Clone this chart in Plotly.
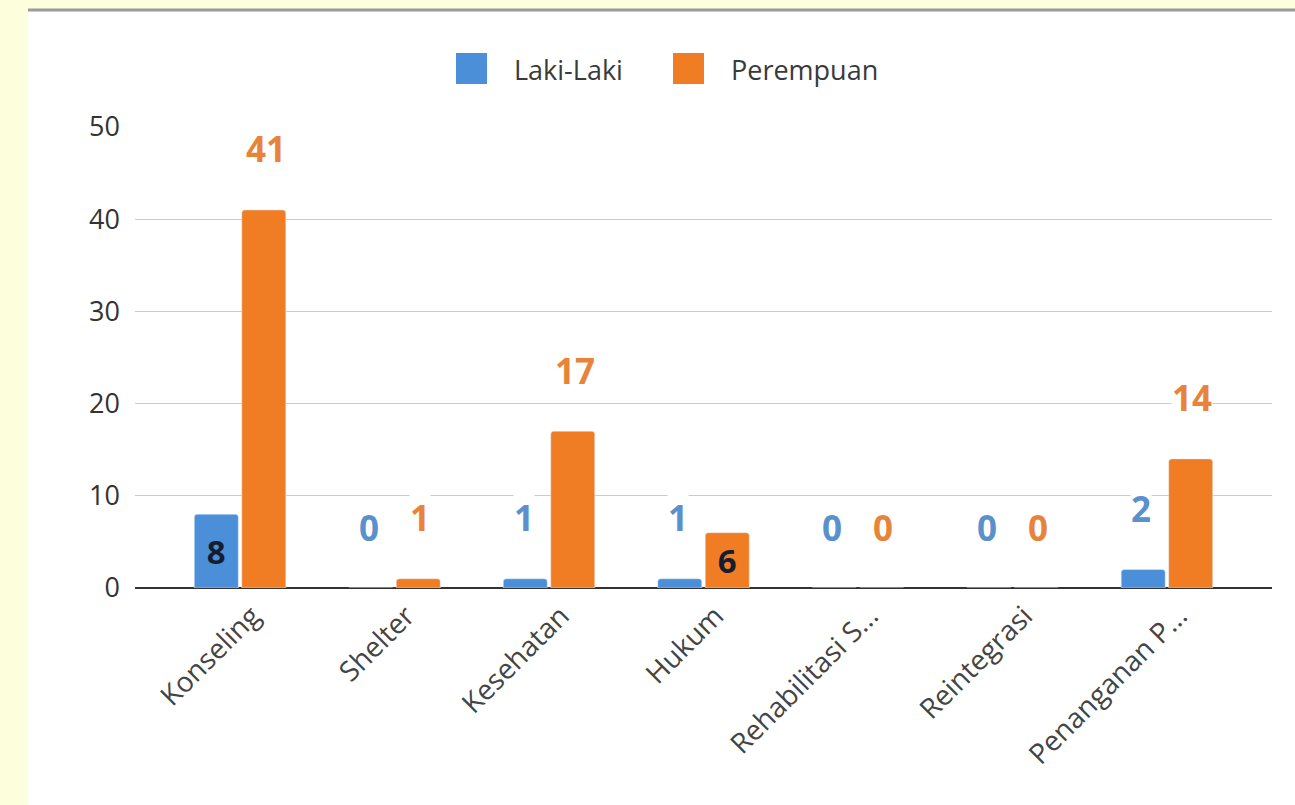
import plotly.graph_objects as go

categories = ["Konseling", "Shelter", "Kesehatan", "Hukum", "Rehabilitasi S...", "Reintegrasi", "Penanganan P..."]
laki_laki = [8, 0, 1, 1, 0, 0, 2]
perempuan = [41, 1, 17, 6, 0, 0, 14]
series_names = ["Laki-Laki", "Perempuan"]
# labels shown inside the bar (dark text) instead of above it
laki_inside = [True, False, False, False, False, False, False]
perempuan_inside = [False, False, False, True, False, False, False]

BLUE = "#4a8fd8"
ORANGE = "#f07d24"
BLUE_LBL = "#5a90cc"
ORANGE_LBL = "#e8833a"
FONT = "Open Sans, DejaVu Sans, sans-serif"

W, H = 1295, 805
L, R, T, B = 135, 1272, 127, 588


def px_x(p):
    return (p - L) / (R - L)


def px_y(p):
    return (B - p) / (B - T)


fig = go.Figure()
for name, vals, inside, col in [
    (series_names[0], laki_laki, laki_inside, BLUE),
    (series_names[1], perempuan, perempuan_inside, ORANGE),
]:
    fig.add_trace(go.Bar(
        name=name, x=categories, y=vals, marker=dict(color=col, cornerradius=3),
        text=[str(v) if f else "" for v, f in zip(vals, inside)],
        textposition=["inside" if f else "none" for f in inside],
        insidetextanchor="middle", constraintext="none",
        textfont=dict(family=FONT, size=33, color="#151d30", weight="bold"),
        hoverinfo="skip", showlegend=False,
    ))

annotations = []
for vals, inside, col, dx in [
    (laki_laki, laki_inside, BLUE_LBL, -25.5),
    (perempuan, perempuan_inside, ORANGE_LBL, 25.5),
]:
    for c, v, f in zip(categories, vals, inside):
        if f:
            continue
        annotations.append(dict(
            x=c, y=v, xref="x", yref="y", text=str(v), showarrow=False,
            xshift=dx, yshift=61, yanchor="middle", bgcolor="white", borderpad=0,
            font=dict(family=FONT, size=35, color=col, weight="bold"),
        ))

shapes = [
    dict(type="rect", xref="paper", yref="paper", x0=px_x(28), x1=px_x(W + 5),
         y0=px_y(H + 5), y1=px_y(10), fillcolor="white", line=dict(width=0), layer="below"),
    dict(type="line", xref="paper", yref="paper", x0=px_x(28), x1=px_x(W + 5),
         y0=px_y(10), y1=px_y(10), line=dict(color="#9a9a9a", width=3), layer="below"),
]

# legend drawn by hand (large square swatches)
for name, col, sx, tx in [(series_names[0], BLUE, 456, 512), (series_names[1], ORANGE, 673, 729)]:
    shapes.append(dict(type="rect", xref="paper", yref="paper", x0=px_x(sx), x1=px_x(sx + 31),
                       y0=px_y(84), y1=px_y(53), fillcolor=col, line=dict(width=0)))
    annotations.append(dict(xref="paper", yref="paper", x=px_x(tx), y=px_y(69), text=name,
                            showarrow=False, xanchor="left", yanchor="middle",
                            font=dict(family=FONT, size=27, color="#3a3a3a")))

fig.update_layout(
    width=W, height=H,
    margin=dict(l=L, r=W - R, t=T, b=H - B, autoexpand=False),
    paper_bgcolor="#fdfedb", plot_bgcolor="rgba(0,0,0,0)",
    barmode="group", bargap=0.385, bargroupgap=0.074,
    font=dict(family=FONT, size=26, color="#333333"),
    showlegend=False,
    annotations=annotations,
    shapes=shapes,
    xaxis=dict(range=[-0.68, 6.68], tickangle=-45, showgrid=False, showline=False,
               tickfont=dict(size=28, color="#444444"), ticks="", fixedrange=True,
               ticklabelstandoff=5, ticklabelshift=12),
    yaxis=dict(range=[0, 50], tickvals=[0, 10, 20, 30, 40, 50], showgrid=True,
               gridcolor="#cccccc", gridwidth=1, zeroline=True, zerolinecolor="#333333",
               zerolinewidth=2, tickfont=dict(size=27, color="#333333"),
               ticklabelstandoff=14, ticks="", fixedrange=True),
)

fig.write_html("out.html", config={"displayModeBar": False},
               post_script="document.body.style.margin='0';document.body.style.overflow='hidden';")
